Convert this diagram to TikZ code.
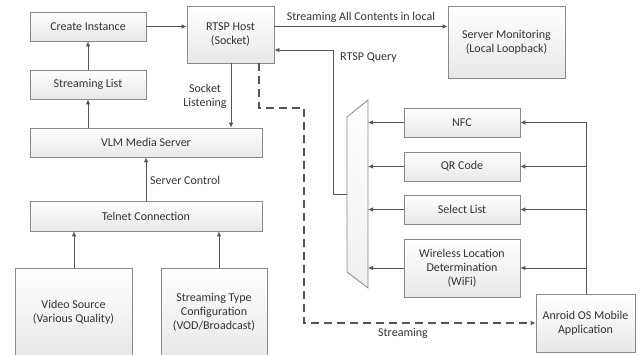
\documentclass[tikz,border=0pt]{standalone}
\usepackage{fontspec}
\setmainfont{Carlito}
\usetikzlibrary{arrows.meta,shadows}
\definecolor{ln}{HTML}{555555}
\definecolor{bd}{HTML}{8A8A8A}
\definecolor{tx}{HTML}{333333}
\tikzset{
  box/.style={draw=bd, line width=0.8pt, top color=white, bottom color=gray!18,
    drop shadow={shadow xshift=1pt, shadow yshift=-1pt, fill=gray!35},
    align=center, text=tx, inner sep=1pt},
  arr/.style={draw=ln, line width=0.8pt, -{Latex[length=5pt,width=4.5pt]}},
  dashline/.style={draw=ln, line width=1.3pt, dash pattern=on 8pt off 5pt, -{Latex[length=5pt,width=4.5pt]}},
  lbl/.style={text=tx, inner sep=0pt, align=center},
}
\begin{document}
\begin{tikzpicture}[x=1pt,y=-1pt, font=\fontsize{12}{14}\selectfont]
\useasboundingbox (0,0) rectangle (640,355);
\begin{scope}
\clip (0,0) rectangle (640,355);
\node[box, minimum width=116pt, minimum height=29pt] (ci) at (88,26.5) {Create Instance};
\node[box, minimum width=116pt, minimum height=29pt] (sl) at (88,84.5) {Streaming List};
\node[box, minimum width=232pt, minimum height=29pt] (vlm) at (146,142.5) {VLM Media Server};
\node[box, minimum width=87pt, minimum height=57pt] (rtsp) at (230.5,34.5) {RTSP Host\\(Socket)};
\node[box, minimum width=117pt, minimum height=72pt] (mon) at (506.5,42) {Server Monitoring\\(Local Loopback)};
\node[box, minimum width=116pt, minimum height=29pt] (nfc) at (462,122.5) {NFC};
\node[box, minimum width=116pt, minimum height=29pt] (qr) at (462,166.5) {QR Code};
\node[box, minimum width=116pt, minimum height=29pt] (sel) at (462,209.5) {Select List};
\node[box, minimum width=116pt, minimum height=58pt] (wifi) at (462,268) {Wireless Location\\Determination\\(WiFi)};
\node[box, minimum width=99pt, minimum height=58pt] (app) at (585.5,323) {Anroid OS Mobile\\Application};
\node[box, minimum width=232pt, minimum height=30pt] (tel) at (146,216) {Telnet Connection};
\node[box, minimum width=117pt, minimum height=88pt] (vid) at (73.5,312) {Video Source\\(Various Quality)};
\node[box, minimum width=106pt, minimum height=88pt] (stc) at (214,312) {Streaming Type\\Configuration\\(VOD/Broadcast)};
\end{scope}
% multiplexer
\coordinate (mtl) at (347,117);
\coordinate (mtr) at (368,100);
\coordinate (mbr) at (368,288);
\coordinate (mbl) at (347,272);
\draw[draw=bd, line width=0.8pt, top color=white, bottom color=gray!12] (mtl) -- (mtr) -- (mbr) -- (mbl) -- cycle;
\coordinate (mr) at (368,0);
\coordinate (ml) at (347,194);
\coordinate (q1) at (333,194);
\coordinate (q2) at (333,50);
\coordinate (bus) at (586,0);
% left column
\draw[arr] (sl) -- (ci);
\draw[arr] (vlm.north -| sl) -- (sl);
\draw[arr] (ci) -- (ci -| rtsp.west);
\draw[arr] (rtsp.south -| 231,0) -- (vlm.north -| 231,0);
\node[lbl] (sock) at (205,96) {Socket\\Listening};
\draw[arr] (tel.north) -- (vlm.south);
\node[lbl, anchor=west] (sc) at (150,180) {Server Control};
\draw[arr] (vid.north -| 74,0) -- (tel.south -| 74,0);
\draw[arr] (stc.north -| 219,0) -- (tel.south -| 219,0);
% top right
\draw[arr] (ci -| rtsp.east) -- (ci -| mon.west);
\node[lbl] (sac) at (361,17) {Streaming All Contents in local};
\draw[arr] (ml) -- (q1) -- (q2) -- (q2 -| rtsp.east);
\node[lbl, anchor=west] (rq) at (340,58) {RTSP Query};
% inputs to mux
\foreach \n in {nfc,qr,sel,wifi}{
  \draw[arr] (\n.west) -- (\n.west -| mr);
  \draw[arr] (\n.east -| bus) -- (\n.east);
}
\draw[draw=ln, line width=0.8pt] (app.north -| bus) -- (nfc.east -| bus);
% streaming dashed
\coordinate (d1) at (259,108);
\coordinate (d2) at (304,108);
\coordinate (d3) at (304,323);
\draw[dashline] (rtsp.south -| d1) -- (d1) -- (d2) -- (d3) -- (app.west);
\node[lbl] (st) at (403,333) {Streaming};
\end{tikzpicture}
\end{document}
